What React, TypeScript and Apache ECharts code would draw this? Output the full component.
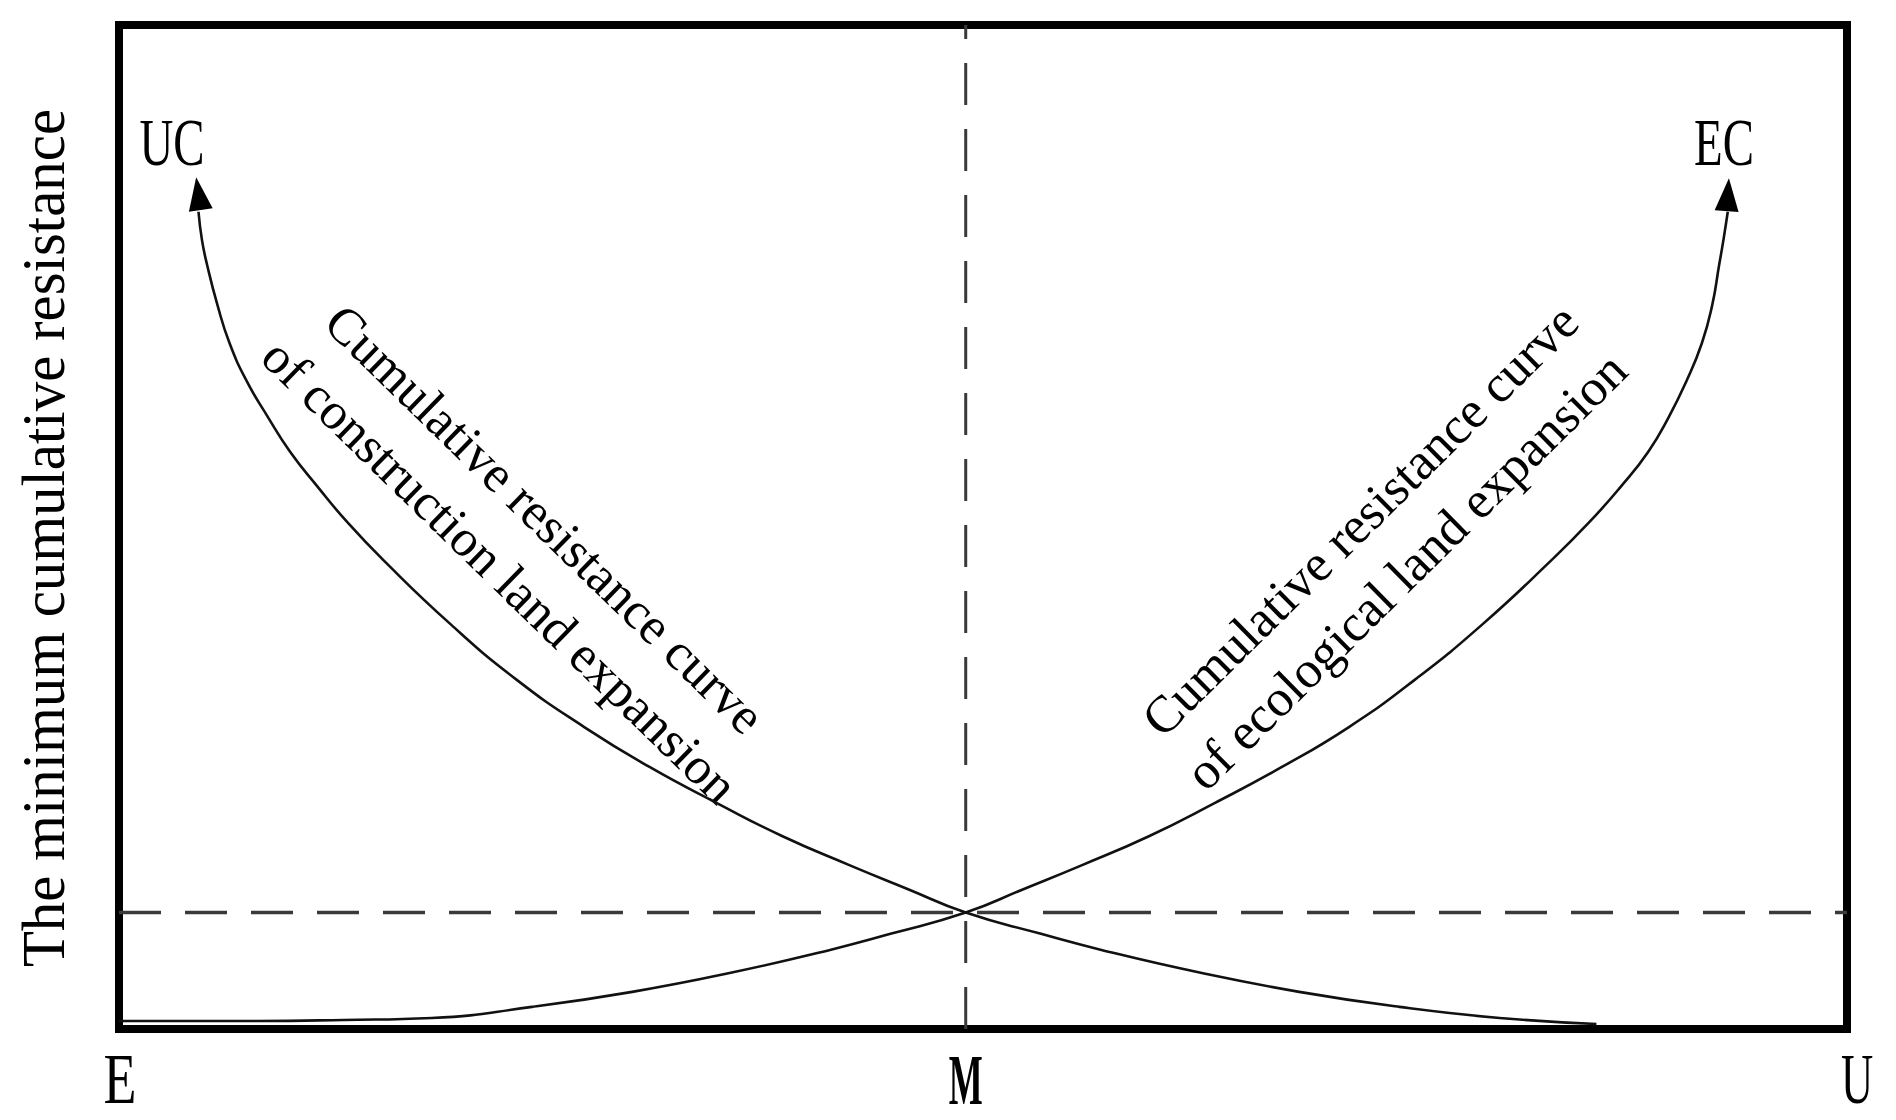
import React, { useEffect, useRef } from "react";
import * as echarts from "echarts";

// ---- data ----
const xTickLabels = ["E", "M", "U"];
const xTickValues = [0, 49, 100];
const yAxisTitle = "The minimum cumulative resistance";
const curveEndLabels = ["UC", "EC"];
const crossingHeight = 11.6;

const constructionLabel = ["Cumulative resistance curve", "of construction land expansion"];
const ecologicalLabel = ["Cumulative resistance curve", "of ecological land expansion"];

const constructionX = [4.6, 4.8, 5.1, 5.7, 6.4, 7.4, 8.6, 9.9, 11.5, 13.2, 15.3, 19.2, 23.0, 26.9, 30.7, 34.6, 38.4, 42.3, 45.7, 49.0, 53.3, 56.8, 62.6, 68.3, 74.1, 79.9, 85.5];
const constructionY = [81.4, 78.6, 76.1, 72.1, 68.3, 64.5, 61.0, 57.5, 54.0, 50.5, 46.7, 40.3, 34.8, 30.1, 26.1, 22.5, 19.2, 16.3, 13.9, 11.6, 9.5, 7.9, 5.6, 3.7, 2.2, 1.1, 0.5];

const ecologicalX = [0, 8, 13, 18.1, 23.9, 29.7, 35.4, 41.2, 44.7, 49.0, 52.3, 55.7, 59.6, 63.4, 67.3, 71.2, 75.0, 78.9, 82.9, 85.1, 86.9, 88.5, 89.7, 90.7, 91.6, 92.2, 92.6, 92.85, 93.1];
const ecologicalY = [0.8, 0.8, 0.9, 1.1, 2.2, 3.7, 5.6, 7.9, 9.5, 11.6, 13.9, 16.3, 19.2, 22.5, 26.1, 30.1, 34.8, 40.3, 46.7, 50.5, 54.0, 57.5, 61.0, 64.5, 68.3, 72.1, 76.1, 78.6, 81.4];

const arrowX = [4.6, 93.1];
const arrowY = [83.2, 83.1];

// ---- layout ----
const GRID = { left: 119, right: 49, top: 25, bottom: 91 };
const SERIF = '"Liberation Serif", "Times New Roman", Times, serif';

export default function App() {
  const ref = useRef<HTMLDivElement>(null);

  useEffect(() => {
    const chart = echarts.init(ref.current as HTMLDivElement, null, { renderer: "svg" });
    const hiddenAxis = {
      type: "value",
      min: 0,
      max: 100,
      axisLine: { show: false },
      axisTick: { show: false },
      axisLabel: { show: false },
      splitLine: { show: false },
    };
    const zip = (xs: number[], ys: number[]) => xs.map((x, i) => [x, ys[i]]);
    const curveStyle = { color: "#111", width: 2.6 };
    const dashStyle = { color: "#3a3a3a", width: 3, type: [42, 24] as any };

    chart.setOption({
      animation: false,
      backgroundColor: "#ffffff",
      grid: { ...GRID, show: true, borderColor: "#000", borderWidth: 8, backgroundColor: "transparent" },
      xAxis: hiddenAxis,
      yAxis: hiddenAxis,
      series: [
        {
          type: "line",
          name: "M reference",
          data: [[xTickValues[1], 0], [xTickValues[1], 100]],
          symbol: "none",
          lineStyle: dashStyle,
          z: 1,
        },
        {
          type: "line",
          name: "crossing reference",
          data: [[0, crossingHeight], [100, crossingHeight]],
          symbol: "none",
          lineStyle: { ...dashStyle, width: 3.5 },
          z: 1,
        },
        {
          type: "line",
          name: "construction",
          data: zip(constructionX, constructionY),
          symbol: "none",
          smooth: 0.5,
          lineStyle: curveStyle,
          z: 3,
        },
        {
          type: "line",
          name: "ecological",
          data: zip(ecologicalX, ecologicalY),
          symbol: "none",
          smooth: 0.5,
          lineStyle: curveStyle,
          z: 3,
        },
        {
          type: "scatter",
          name: "arrows",
          data: [
            { value: [arrowX[0], arrowY[0]], symbolRotate: 8 },
            { value: [arrowX[1], arrowY[1]], symbolRotate: -4 },
          ],
          symbol: "triangle",
          symbolSize: [24, 33],
          itemStyle: { color: "#000", opacity: 1 },
          z: 4,
        },
      ],
    });

    const px = (x: number, y: number) => chart.convertToPixel({ gridIndex: 0 }, [x, y]) as number[];
    const bottomY = px(0, 0)[1];

    const serifText = (
      text: string,
      p: number[],
      size: number,
      opts: { rotation?: number; scaleX?: number; bold?: boolean } = {}
    ) => ({
      type: "text",
      x: p[0],
      y: p[1],
      rotation: opts.rotation || 0,
      scaleX: opts.scaleX || 1,
      silent: true,
      style: {
        text,
        fontFamily: SERIF,
        fontSize: size,
        fontWeight: opts.bold ? "bold" : "normal",
        fill: "#000",
        align: "center",
        verticalAlign: "middle",
      },
    });

    const tickScales = [0.75, 0.5, 0.62];
    const tickOffsets = [1, 0, 10];
    const elements: any[] = [];
    xTickLabels.forEach((t, i) => {
      const p = px(xTickValues[i], 0);
      elements.push(
        serifText(t, [p[0] + tickOffsets[i], bottomY + 50], 72, { scaleX: tickScales[i], bold: i === 1 })
      );
    });
    elements.push(serifText(curveEndLabels[0], px(3.07, 88.35), 68, { scaleX: 0.69 }));
    elements.push(serifText(curveEndLabels[1], px(92.88, 88.35), 68, { scaleX: 0.69 }));
    elements.push(
      serifText(yAxisTitle, [GRID.left - 75, px(0, 48.9)[1]], 61, { rotation: Math.PI / 2, scaleX: 0.965 })
    );
    const leftRot = -0.772;
    const rightRot = 0.78;
    elements.push(serifText(constructionLabel[0], px(24.65, 50.8), 52, { rotation: leftRot }));
    elements.push(serifText(constructionLabel[1], px(22.05, 45.62), 52, { rotation: leftRot }));
    elements.push(serifText(ecologicalLabel[0], px(71.82, 50.7), 52, { rotation: rightRot }));
    elements.push(serifText(ecologicalLabel[1], px(74.48, 45.62), 52, { rotation: rightRot }));

    chart.setOption({ graphic: { elements } });

    return () => chart.dispose();
  }, []);

  return (
    <div
      ref={ref}
      style={{ position: "fixed", left: 0, top: 0, width: 1896, height: 1120, background: "#fff" }}
    />
  );
}
